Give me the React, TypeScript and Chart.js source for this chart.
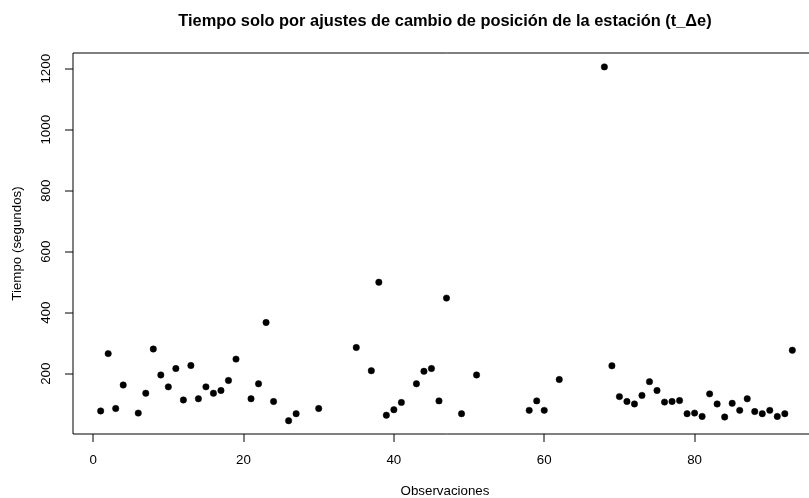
import { useEffect, useRef } from "react";
import { Chart, registerables } from "chart.js";

Chart.register(...registerables);

// Observation numbers (gaps are missing observations)
const observaciones = [
  1, 2, 3, 4, 6, 7, 8, 9, 10, 11, 12, 13, 14, 15, 16, 17, 18, 19, 21, 22, 23, 24, 26, 27, 30,
  35, 37, 38, 39, 40, 41, 43, 44, 45, 46, 47, 49, 51, 58, 59, 60, 62,
  68, 69, 70, 71, 72, 73, 74, 75, 76, 77, 78, 79, 80, 81, 82, 83, 84, 85, 86, 87, 88, 89, 90, 91, 92, 93,
];

// Time in seconds for each observation
const tiempos = [
  78, 266, 86, 163, 71, 136, 281, 196, 157, 217, 114, 227, 118, 157, 136, 145, 178, 248, 118, 167, 368, 109, 46, 69, 86,
  286, 210, 500, 64, 82, 106, 167, 208, 217, 111, 448, 69, 196, 80, 111, 80, 181,
  1206, 226, 125, 109, 101, 129, 174, 145, 107, 109, 112, 69, 71, 60, 134, 101, 58, 103, 80, 118, 76, 69, 80, 60, 69, 277,
];

const xTicks = [0, 20, 40, 60, 80];
const yTicks = [200, 400, 600, 800, 1000, 1200];

const titulo = "Tiempo solo por ajustes de cambio de posición de la estación (t_Δe)";
const xTitulo = "Observaciones";
const yTitulo = "Tiempo (segundos)";

const FONT = '"Liberation Sans", Arial, Helvetica, sans-serif';

export default function App() {
  const ref = useRef<HTMLCanvasElement>(null);

  useEffect(() => {
    document.body.style.margin = "0";
    document.body.style.overflow = "hidden";
    const canvas = ref.current;
    if (!canvas) return;

    const rAxes = {
      id: "rAxes",
      afterDraw(chart: any) {
        const { ctx, chartArea: a, scales } = chart;
        const xs = scales.x;
        const ys = scales.y;
        ctx.save();
        ctx.strokeStyle = "#000";
        ctx.fillStyle = "#000";
        ctx.lineWidth = 1;

        // box
        ctx.beginPath();
        ctx.rect(a.left, a.top, a.right - a.left, a.bottom - a.top);
        ctx.stroke();

        // x ticks
        ctx.beginPath();
        for (const t of xTicks) {
          const px = Math.round(xs.getPixelForValue(t));
          ctx.moveTo(px, a.bottom);
          ctx.lineTo(px, a.bottom + 8);
        }
        ctx.stroke();
        ctx.font = `13.33px ${FONT}`;
        ctx.textAlign = "center";
        ctx.textBaseline = "middle";
        for (const t of xTicks) {
          ctx.fillText(String(t), xs.getPixelForValue(t), a.bottom + 26);
        }

        // y ticks
        ctx.beginPath();
        for (const t of yTicks) {
          const py = Math.round(ys.getPixelForValue(t));
          ctx.moveTo(a.left, py);
          ctx.lineTo(a.left - 8, py);
        }
        ctx.stroke();
        for (const t of yTicks) {
          ctx.save();
          ctx.translate(46.5, ys.getPixelForValue(t));
          ctx.rotate(-Math.PI / 2);
          ctx.fillText(String(t), 0, 0);
          ctx.restore();
        }

        const cx = (a.left + a.right) / 2 - 1.5;
        const cy = (a.top + a.bottom) / 2;

        // axis titles
        ctx.fillText(xTitulo, cx, 491);
        ctx.save();
        ctx.translate(17, cy);
        ctx.rotate(-Math.PI / 2);
        ctx.fillText(yTitulo, 0, 0);
        ctx.restore();

        // main title
        ctx.font = `bold 16.4px ${FONT}`;
        ctx.fillText(titulo, cx, 21);
        ctx.restore();
      },
    };

    const chart = new Chart(canvas, {
      type: "scatter",
      data: {
        datasets: [
          {
            data: observaciones.map((x, i) => ({ x, y: tiempos[i] })),
            pointRadius: 3.2,
            pointBackgroundColor: "#000",
            pointBorderColor: "#000",
            pointBorderWidth: 0.5,
            pointHoverRadius: 3.2,
          },
        ],
      },
      options: {
        responsive: false,
        animation: false,
        events: [],
        layout: { padding: { left: 73, top: 53, right: 10, bottom: 64 } },
        plugins: {
          legend: { display: false },
          title: { display: false },
          tooltip: { enabled: false },
        },
        scales: {
          x: { type: "linear", min: -2.68, max: 96.68, display: false },
          y: { type: "linear", min: 2.4, max: 1251.6, display: false },
        },
      },
      plugins: [rAxes],
    });

    return () => chart.destroy();
  }, []);

  return (
    <div style={{ width: 809, height: 498, overflow: "hidden", position: "relative", background: "#fff" }}>
      <canvas ref={ref} width={830} height={498} style={{ width: 830, height: 498, display: "block" }} />
    </div>
  );
}
